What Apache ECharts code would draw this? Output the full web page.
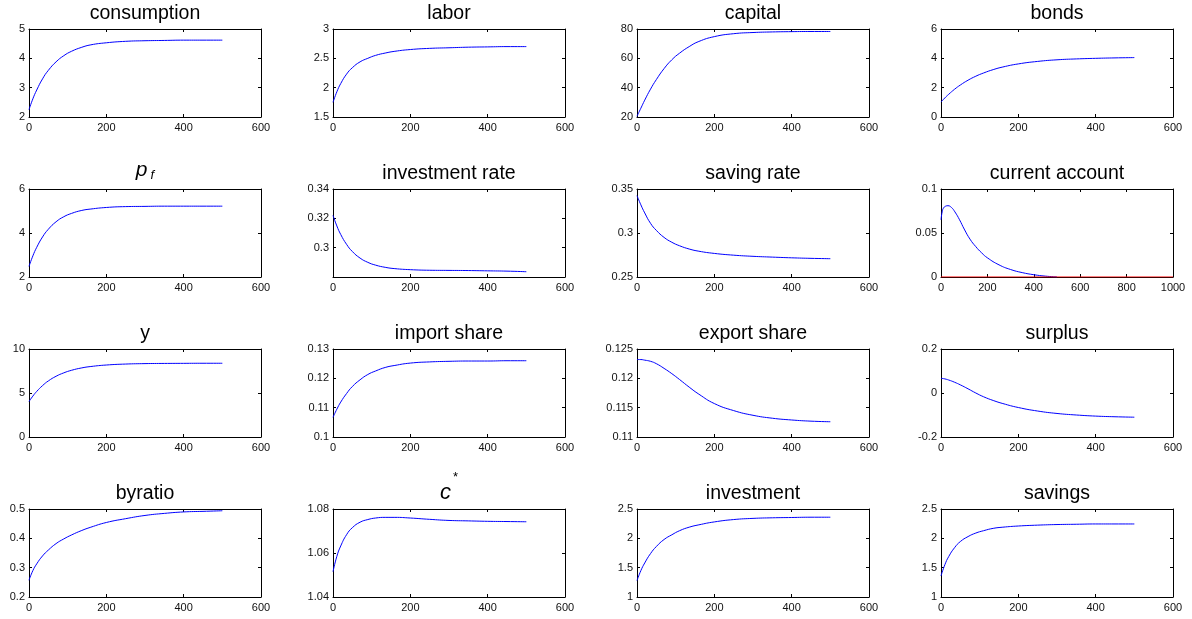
<!DOCTYPE html>
<html>
<head>
<meta charset="utf-8">
<script src="https://cdn.jsdelivr.net/npm/echarts@6/dist/echarts.min.js"></script>
<style>
  html, body { margin: 0; padding: 0; background: #fff; }
  #chart { width: 1192px; height: 619px; }
</style>
</head>
<body>
<div id="chart"></div>
<script>
// Simulation period at which each path value is recorded
const steps = [0, 10, 20, 35, 50, 70, 90, 110, 135, 160, 200, 250, 300, 350, 400, 450, 500];

// Transition paths
const consumption    = [2.25, 2.62, 2.92, 3.30, 3.59, 3.88, 4.09, 4.24, 4.37, 4.46, 4.53, 4.58, 4.60, 4.61, 4.62, 4.62, 4.62];
const labor          = [1.75, 1.93, 2.07, 2.23, 2.34, 2.44, 2.50, 2.55, 2.59, 2.62, 2.65, 2.67, 2.68, 2.69, 2.695, 2.70, 2.70];
const capital        = [20.5, 26, 31.5, 39, 45.5, 53, 59, 63.5, 68, 71.5, 74.8, 76.8, 77.6, 78.0, 78.2, 78.3, 78.3];
const bonds          = [1.02, 1.30, 1.55, 1.89, 2.18, 2.51, 2.78, 3.00, 3.23, 3.41, 3.62, 3.79, 3.90, 3.96, 4.00, 4.03, 4.05];
const pf             = [2.48, 2.96, 3.35, 3.82, 4.17, 4.51, 4.74, 4.89, 5.02, 5.09, 5.16, 5.20, 5.21, 5.22, 5.22, 5.22, 5.22];
const investmentRate = [0.322, 0.3148, 0.3090, 0.3023, 0.2974, 0.2929, 0.2900, 0.2881, 0.2866, 0.2857, 0.2850, 0.2846, 0.2845, 0.2844, 0.2842, 0.2840, 0.2836];
const savingRate     = [0.3425, 0.3320, 0.3228, 0.3110, 0.3030, 0.2950, 0.2895, 0.2855, 0.2818, 0.2793, 0.2768, 0.2748, 0.2735, 0.2726, 0.2718, 0.2712, 0.2708];
const output         = [4.03, 4.65, 5.18, 5.84, 6.37, 6.90, 7.29, 7.58, 7.84, 8.01, 8.18, 8.29, 8.34, 8.36, 8.37, 8.38, 8.38];
const importShare    = [0.1067, 0.1095, 0.1119, 0.1148, 0.1172, 0.1195, 0.1213, 0.1225, 0.1237, 0.1244, 0.1252, 0.1256, 0.1258, 0.1259, 0.1259, 0.1260, 0.1260];
const exportShare    = [0.1232, 0.1232, 0.1231, 0.1229, 0.1225, 0.1217, 0.1208, 0.1198, 0.1185, 0.1173, 0.1157, 0.1145, 0.1137, 0.1132, 0.1129, 0.1127, 0.1126];
const surplus        = [0.067, 0.064, 0.059, 0.049, 0.037, 0.019, 0.000, -0.017, -0.034, -0.048, -0.066, -0.082, -0.093, -0.100, -0.105, -0.108, -0.110];
const byratio        = [0.257, 0.290, 0.313, 0.340, 0.360, 0.382, 0.398, 0.4115, 0.426, 0.438, 0.454, 0.467, 0.478, 0.485, 0.490, 0.492, 0.494];
const cStar          = [1.0515, 1.0585, 1.0632, 1.0683, 1.0715, 1.0740, 1.0752, 1.0759, 1.0762, 1.0762, 1.0759, 1.0753, 1.0748, 1.0746, 1.0744, 1.0743, 1.0742];
const investment     = [1.28, 1.45, 1.58, 1.74, 1.86, 1.98, 2.06, 2.13, 2.19, 2.23, 2.28, 2.32, 2.34, 2.35, 2.355, 2.36, 2.36];
const savings        = [1.36, 1.55, 1.69, 1.84, 1.945, 2.03, 2.09, 2.13, 2.17, 2.19, 2.21, 2.225, 2.235, 2.24, 2.245, 2.245, 2.245];

// Current account has its own horizon and a zero reference line
const caSteps        = [0, 5, 10, 20, 30, 45, 60, 80, 100, 125, 150, 175, 200, 250, 300, 350, 400, 450, 500];
const currentAccount = [0.065, 0.074, 0.078, 0.0805, 0.081, 0.0790, 0.0740, 0.0650, 0.0545, 0.0430, 0.0345, 0.0275, 0.0218, 0.0138, 0.0085, 0.0050, 0.0026, 0.0010, 0.0];
const caZeroX        = [0, 1000];
const caZeroY        = [0, 0];

// Panel definitions: title, x/y values, axis ranges [min, max, interval]
const panels = [
  { title: 'consumption',     x: steps, y: consumption,    xr: [0, 600, 200],  yr: [2, 5, 1] },
  { title: 'labor',           x: steps, y: labor,          xr: [0, 600, 200],  yr: [1.5, 3, 0.5] },
  { title: 'capital',         x: steps, y: capital,        xr: [0, 600, 200],  yr: [20, 80, 20] },
  { title: 'bonds',           x: steps, y: bonds,          xr: [0, 600, 200],  yr: [0, 6, 2] },
  { title: '{i|p}{sub|f}',    x: steps, y: pf,             xr: [0, 600, 200],  yr: [2, 6, 2], titleDy: -5 },
  { title: 'investment rate', x: steps, y: investmentRate, xr: [0, 600, 200],  yr: [0.28, 0.34, 0.02], hideMin: true },
  { title: 'saving rate',     x: steps, y: savingRate,     xr: [0, 600, 200],  yr: [0.25, 0.35, 0.05] },
  { title: 'current account', x: caSteps, y: currentAccount, xr: [0, 1000, 200], yr: [0, 0.1, 0.05], zero: true },
  { title: 'y',               x: steps, y: output,         xr: [0, 600, 200],  yr: [0, 10, 5] },
  { title: 'import share',    x: steps, y: importShare,    xr: [0, 600, 200],  yr: [0.1, 0.13, 0.01] },
  { title: 'export share',    x: steps, y: exportShare,    xr: [0, 600, 200],  yr: [0.11, 0.125, 0.005] },
  { title: 'surplus',         x: steps, y: surplus,        xr: [0, 600, 200],  yr: [-0.2, 0.2, 0.2] },
  { title: 'byratio',         x: steps, y: byratio,        xr: [0, 600, 200],  yr: [0.2, 0.5, 0.1] },
  { title: '{c|c}{sup|*}',    x: steps, y: cStar,          xr: [0, 600, 200],  yr: [1.04, 1.08, 0.02], titleDy: -13 },
  { title: 'investment',      x: steps, y: investment,     xr: [0, 600, 200],  yr: [1, 2.5, 0.5] },
  { title: 'savings',         x: steps, y: savings,        xr: [0, 600, 200],  yr: [1, 2.5, 0.5] }
];

const FONT = '"Liberation Sans", Arial, Helvetica, sans-serif';
const colLeft = [29, 333, 637, 941];
const rowTop = [29, 189, 349, 509];
const boxW = 232, boxH = 88;

const fmt = v => String(+v.toFixed(6));

const option = {
  animation: false,
  backgroundColor: '#fff',
  title: [], grid: [], xAxis: [], yAxis: [], series: []
};

const lineAxis = { show: true, onZero: false, lineStyle: { color: '#000', width: 1 } };
const tickIn = { show: true, inside: true, length: 3, lineStyle: { color: '#000', width: 1 } };
const tickLabel = { fontFamily: FONT, fontSize: 11, color: '#111', formatter: fmt };

panels.forEach((p, i) => {
  const r = Math.floor(i / 4), c = i % 4;
  const left = colLeft[c], top = rowTop[r];

  option.grid.push({ left: left, top: top, width: boxW, height: boxH, containLabel: false });

  option.title.push({
    text: p.title,
    left: left + boxW / 2,
    top: top - 25 + (p.titleDy || 0),
    textAlign: 'center',
    padding: 0,
    textStyle: {
      fontFamily: FONT, fontSize: 19.5, fontWeight: 'normal', color: '#000',
      rich: {
        i:   { fontFamily: FONT, fontSize: 21, fontStyle: 'italic', color: '#000' },
        sub: { fontFamily: FONT, fontSize: 13, fontStyle: 'italic', color: '#000', padding: [10, 0, 0, 3] },
        c:   { fontFamily: FONT, fontSize: 22, fontStyle: 'italic', color: '#000' },
        sup: { fontFamily: FONT, fontSize: 13, color: '#000', padding: [0, 0, 30, 2] }
      }
    }
  });

  const xBase = { type: 'value', gridIndex: i, min: p.xr[0], max: p.xr[1], interval: p.xr[2],
                  splitLine: { show: false }, axisLine: lineAxis, axisTick: tickIn };
  const yBase = { type: 'value', gridIndex: i, min: p.yr[0], max: p.yr[1], interval: p.yr[2],
                  splitLine: { show: false }, axisLine: lineAxis, axisTick: tickIn };

  option.xAxis.push(Object.assign({}, xBase, {
    position: 'bottom',
    axisLabel: Object.assign({ show: true, margin: 5 }, tickLabel)
  }));
  option.xAxis.push(Object.assign({}, xBase, { position: 'top', axisLabel: { show: false } }));

  option.yAxis.push(Object.assign({}, yBase, {
    position: 'left',
    axisLabel: Object.assign({ show: true, margin: 4, showMinLabel: !p.hideMin }, tickLabel)
  }));
  option.yAxis.push(Object.assign({}, yBase, { position: 'right', axisLabel: { show: false } }));

  option.series.push({
    type: 'line',
    xAxisIndex: 2 * i, yAxisIndex: 2 * i,
    data: p.x.map((xv, k) => [xv, p.y[k]]),
    showSymbol: false, smooth: 0.5,
    lineStyle: { color: '#0000ff', width: 1 },
    itemStyle: { color: '#0000ff' },
    z: 3
  });

  if (p.zero) {
    option.series.push({
      type: 'line',
      xAxisIndex: 2 * i, yAxisIndex: 2 * i,
      data: caZeroX.map((xv, k) => [xv, caZeroY[k]]),
      showSymbol: false,
      lineStyle: { color: '#ff0000', width: 1.2 },
      itemStyle: { color: '#ff0000' },
      z: 4
    });
  }
});

const chart = echarts.init(document.getElementById('chart'), null, { renderer: 'canvas' });
chart.setOption(option);
</script>
</body>
</html>
